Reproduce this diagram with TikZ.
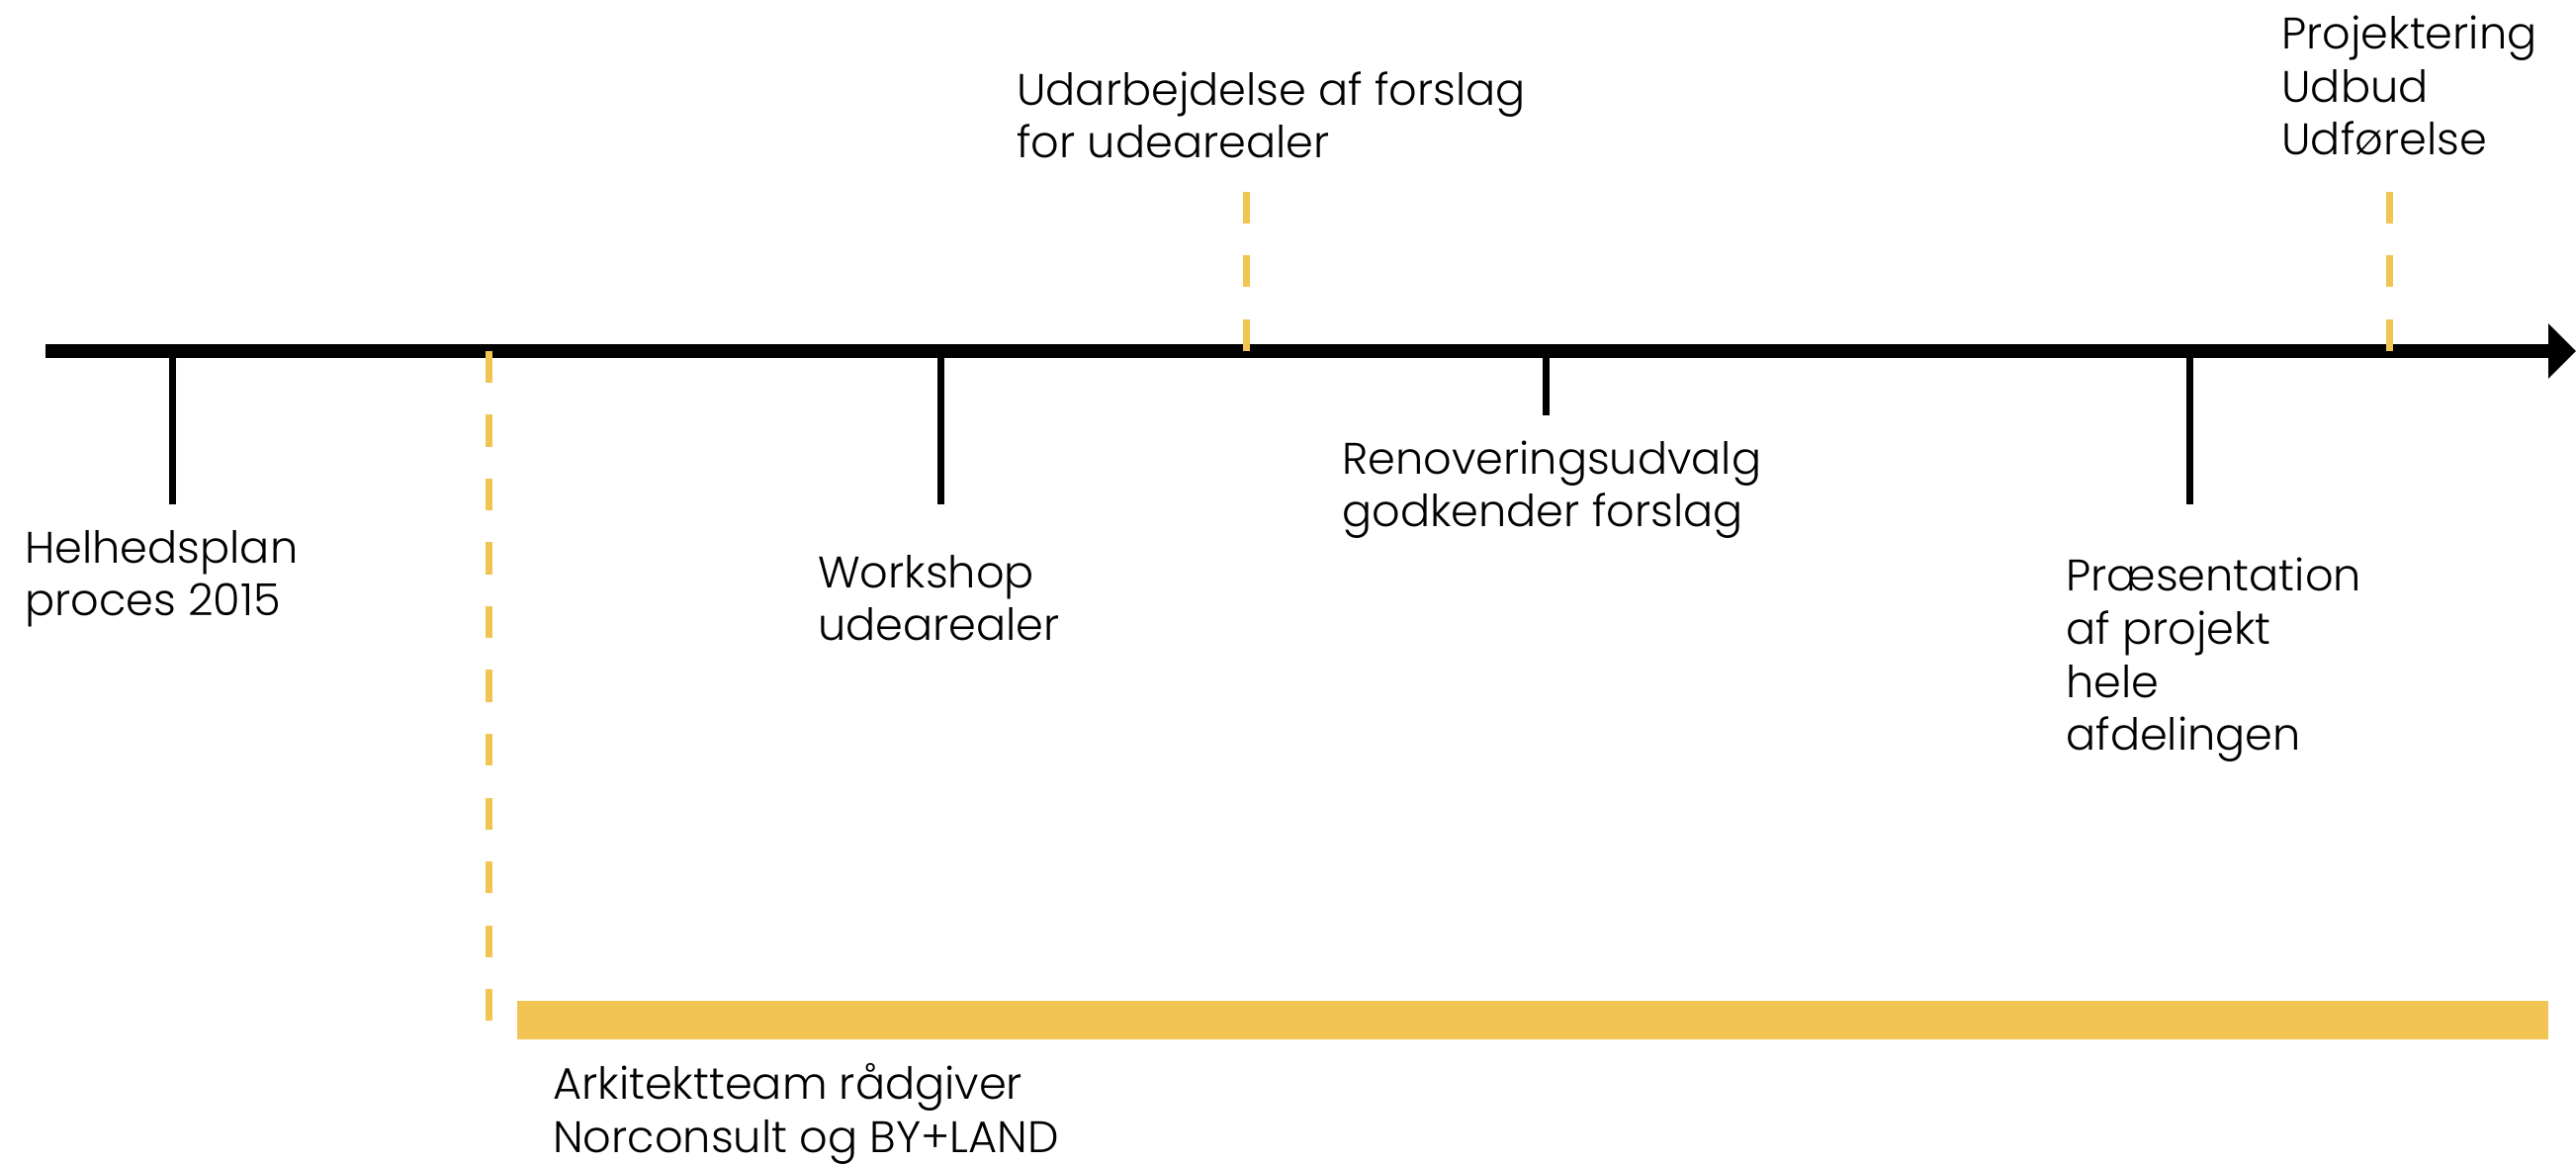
\documentclass[tikz,border=0pt]{standalone}
\usepackage{fontspec}
\setmainfont{Poppins}[UprightFont=* Light]
\usetikzlibrary{arrows.meta}
\definecolor{gul}{RGB}{241,196,84}

\begin{document}
\begin{tikzpicture}[
    akse/.style={line width=0.28cm},
    streg/.style={line width=0.14cm},
    gulstreg/.style={line width=0.14cm, gul, dash pattern=on 0.645cm off 0.645cm},
    tekst/.style={anchor=base west, inner sep=0pt, align=left, font=\fontsize{25.4}{30.6}\selectfont}
  ]
  \useasboundingbox (0,0) rectangle (52.1,23.52);
  % tidslinje
  \coordinate (start) at (0.92,16.42);
  \coordinate (slut) at (52.1,16.42);
  \draw[akse, -{Triangle[length=0.56cm,width=1.08cm]}] (start) -- (slut);

  % sorte streger
  \coordinate (H) at (3.48,16.42);
  \coordinate (Hb) at (3.48,13.32);
  \coordinate (W) at (19.02,16.42);
  \coordinate (Wb) at (19.02,13.32);
  \coordinate (R) at (31.26,16.42);
  \coordinate (Rb) at (31.26,15.12);
  \coordinate (P) at (44.28,16.42);
  \coordinate (Pb) at (44.28,13.32);
  \draw[streg] (H) -- (Hb);
  \draw[streg] (W) -- (Wb);
  \draw[streg] (R) -- (Rb);
  \draw[streg] (P) -- (Pb);

  % gule stiplede streger
  \coordinate (A) at (9.88,16.42);
  \coordinate (Ab) at (9.88,2.88);
  \coordinate (U) at (25.20,16.42);
  \coordinate (Ut) at (25.20,19.64);
  \coordinate (E) at (48.32,16.42);
  \coordinate (Et) at (48.32,19.64);
  \draw[gulstreg] (A) -- (Ab);
  \draw[gulstreg] (U) -- (Ut);
  \draw[gulstreg] (E) -- (Et);

  % rådgiver
  \fill[gul] (10.46,2.50) rectangle (51.54,3.28);

  % tekster
  \node[tekst] (helhed) at (0.5,11.06) {Helhedsplan\\proces 2015};
  \node[tekst] (workshop) at (16.54,10.56) {Workshop\\udearealer};
  \node[tekst] (udarb) at (20.56,20.32) {Udarbejdelse af forslag\\for udearealer};
  \node[tekst] (renov) at (27.14,12.86) {Renoveringsudvalg\\godkender forslag};
  \node[tekst] (praes) at (41.78,8.34) {Præsentation\\af projekt\\hele\\afdelingen};
  \node[tekst] (projekt) at (46.14,20.38) {Projektering\\Udbud\\Udførelse};
  \node[tekst] (arkitekt) at (11.18,0.22) {Arkitektteam rådgiver\\Norconsult og BY+LAND};
\end{tikzpicture}
\end{document}
